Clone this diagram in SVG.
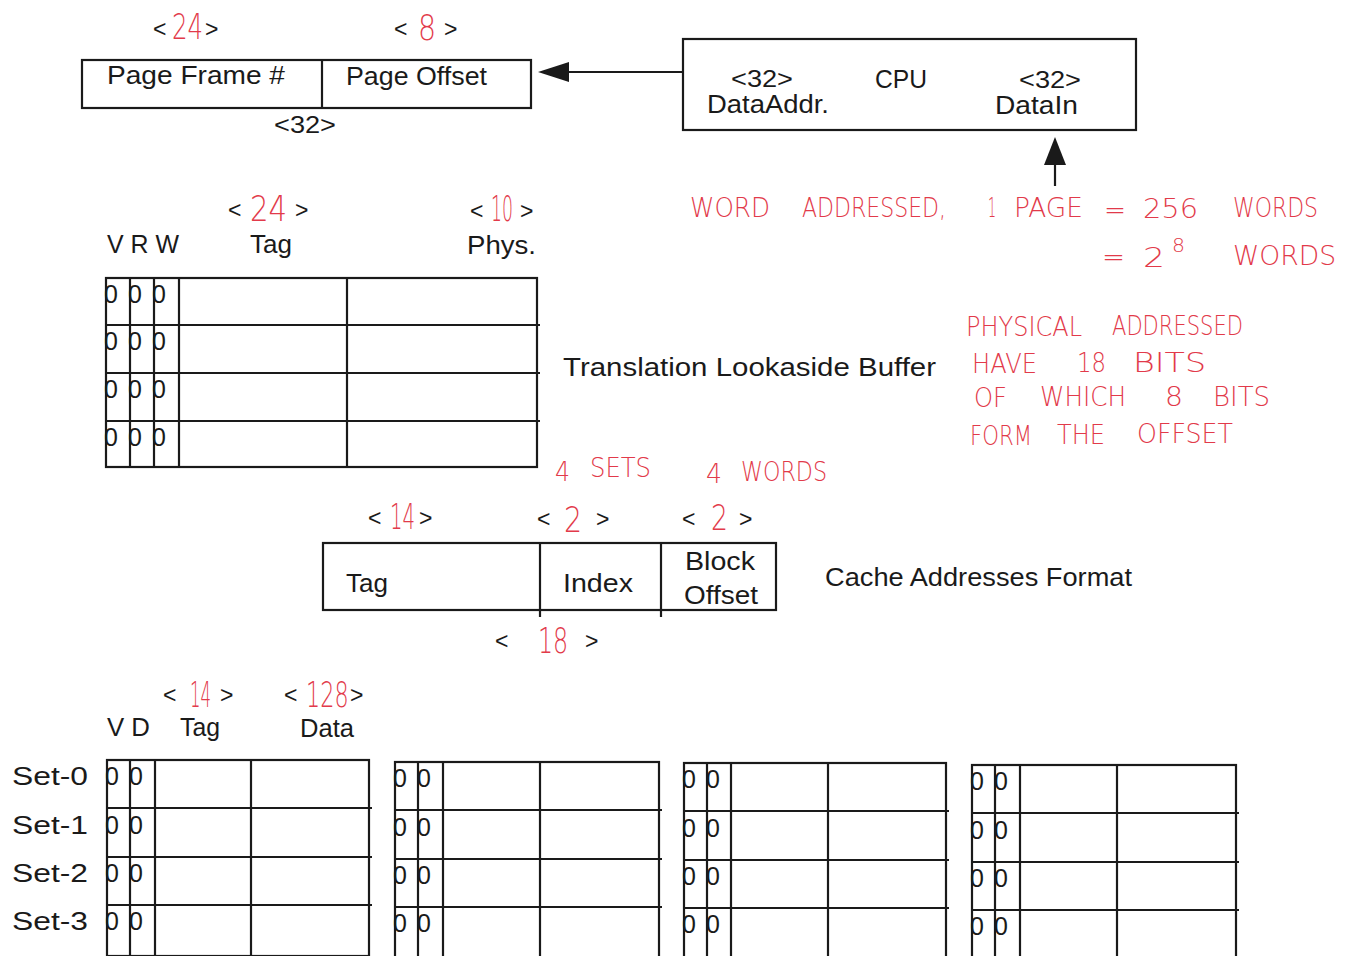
<svg xmlns="http://www.w3.org/2000/svg" width="1355" height="956" viewBox="0 0 1355 956">
<style>
.t{font-family:"Liberation Sans",Arial,sans-serif;fill:#1a1a1a;font-size:25px}
.s{font-family:"Liberation Sans",Arial,sans-serif;fill:#1a1a1a;font-size:23px}
.r{font-family:"DejaVu Sans",sans-serif;fill:#e23a4a;font-size:36px;font-weight:200}
.h{font-family:"DejaVu Sans",sans-serif;fill:#e23a4a;font-size:26px;font-weight:200}
.b{fill:none;stroke:#1a1a1a;stroke-width:2.2}
.l{stroke:#1a1a1a;stroke-width:2.2}
.z{font-family:"Liberation Sans",Arial,sans-serif;fill:#1a1a1a;font-size:25px}
</style>
<rect width="1355" height="956" fill="#fff"/>

<g id="connectors">
<line x1="683" y1="72" x2="568" y2="72" class="l"/>
<path d="M538,72 L569,62 L569,82 Z" fill="#1a1a1a"/>
<line x1="1055" y1="186" x2="1055" y2="164" class="l"/>
<path d="M1055,137 L1044,165 L1066,165 Z" fill="#1a1a1a"/>
</g>

<g id="page-address">
<rect x="82" y="60" width="449" height="48" class="b"/>
<line x1="322" y1="60" x2="322" y2="108" class="l"/>
<text x="107" y="84" class="t" textLength="178" lengthAdjust="spacingAndGlyphs">Page Frame #</text>
<text x="346" y="85" class="t" textLength="141" lengthAdjust="spacingAndGlyphs">Page Offset</text>
<text x="153" y="37" class="s">&lt;</text><g transform="translate(172,39) scale(0.68,1)"><text class="r">24</text></g><text x="205" y="37" class="s">&gt;</text>
<text x="394" y="37" class="s">&lt;</text><g transform="translate(418,40) scale(0.79,1)"><text class="r">8</text></g><text x="444" y="37" class="s">&gt;</text>
<text x="274" y="133" class="s" textLength="62" lengthAdjust="spacingAndGlyphs">&lt;32&gt;</text>
</g>

<g id="cpu">
<rect x="683" y="39" width="453" height="91" class="b"/>
<text x="731" y="87" class="s" font-size="22" textLength="62" lengthAdjust="spacingAndGlyphs">&lt;32&gt;</text>
<text x="707" y="113" class="t" textLength="122" lengthAdjust="spacingAndGlyphs">DataAddr.</text>
<text x="875" y="88" class="t" textLength="52" lengthAdjust="spacingAndGlyphs">CPU</text>
<text x="1019" y="88" class="s" font-size="22" textLength="62" lengthAdjust="spacingAndGlyphs">&lt;32&gt;</text>
<text x="995" y="114" class="t" textLength="83" lengthAdjust="spacingAndGlyphs">DataIn</text>
</g>

<g id="note-word" class="h">
<text x="690" y="217" textLength="80" lengthAdjust="spacingAndGlyphs">WORD</text>
<text x="802" y="217" textLength="144" lengthAdjust="spacingAndGlyphs">ADDRESSED,</text>
<text x="988" y="217" textLength="8" lengthAdjust="spacingAndGlyphs">1</text>
<text x="1014" y="217" textLength="69" lengthAdjust="spacingAndGlyphs">PAGE</text>
<text x="1104" y="219" textLength="22" lengthAdjust="spacingAndGlyphs">=</text>
<text x="1143" y="218" textLength="55" lengthAdjust="spacingAndGlyphs">256</text>
<text x="1233" y="217" textLength="85" lengthAdjust="spacingAndGlyphs">WORDS</text>
<text x="1102" y="266" textLength="23" lengthAdjust="spacingAndGlyphs">=</text>
<text x="1143" y="267" textLength="22" lengthAdjust="spacingAndGlyphs">2</text>
<text x="1172" y="252" font-size="20" textLength="13" lengthAdjust="spacingAndGlyphs">8</text>
<text x="1233" y="265" textLength="103" lengthAdjust="spacingAndGlyphs">WORDS</text>
</g>

<g id="tlb">
<text x="228" y="218" class="s">&lt;</text><g transform="translate(250,221) scale(0.81,1)"><text class="r">24</text></g><text x="295" y="218" class="s">&gt;</text>
<text x="470" y="219" class="s">&lt;</text><g transform="translate(491,221) scale(0.48,1)"><text class="r">10</text></g><text x="520" y="219" class="s">&gt;</text>
<text x="107" y="253" class="t" textLength="72" lengthAdjust="spacingAndGlyphs">V R W</text>
<text x="250" y="253" class="t" textLength="42" lengthAdjust="spacingAndGlyphs">Tag</text>
<text x="467" y="254" class="t" textLength="69" lengthAdjust="spacingAndGlyphs">Phys.</text>
<rect x="106" y="278" width="431" height="189" class="b"/>
<line x1="106" y1="325" x2="540" y2="325" class="l"/>
<line x1="106" y1="373" x2="540" y2="373" class="l"/>
<line x1="106" y1="421" x2="540" y2="421" class="l"/>
<line x1="130" y1="278" x2="130" y2="468" class="l"/>
<line x1="154" y1="278" x2="154" y2="468" class="l"/>
<line x1="179" y1="278" x2="179" y2="468" class="l"/>
<line x1="347" y1="278" x2="347" y2="468" class="l"/>
<g class="z">
<text x="104" y="303">0</text><text x="128" y="303">0</text><text x="152" y="303">0</text>
<text x="104" y="350">0</text><text x="128" y="350">0</text><text x="152" y="350">0</text>
<text x="104" y="398">0</text><text x="128" y="398">0</text><text x="152" y="398">0</text>
<text x="104" y="446">0</text><text x="128" y="446">0</text><text x="152" y="446">0</text>
</g>
<text x="563" y="376" class="t" textLength="373" lengthAdjust="spacingAndGlyphs">Translation  Lookaside  Buffer</text>
</g>

<g id="note-physical" class="h">
<text x="966" y="336" textLength="116" lengthAdjust="spacingAndGlyphs">PHYSICAL</text>
<text x="1112" y="335" textLength="131" lengthAdjust="spacingAndGlyphs">ADDRESSED</text>
<text x="972" y="373" textLength="65" lengthAdjust="spacingAndGlyphs">HAVE</text>
<text x="1077" y="372" textLength="29" lengthAdjust="spacingAndGlyphs">18</text>
<text x="1133" y="372" textLength="73" lengthAdjust="spacingAndGlyphs">BITS</text>
<text x="974" y="407" textLength="33" lengthAdjust="spacingAndGlyphs">OF</text>
<text x="1040" y="406" textLength="86" lengthAdjust="spacingAndGlyphs">WHICH</text>
<text x="1165" y="406" textLength="18" lengthAdjust="spacingAndGlyphs">8</text>
<text x="1213" y="406" textLength="57" lengthAdjust="spacingAndGlyphs">BITS</text>
<text x="970" y="445" textLength="62" lengthAdjust="spacingAndGlyphs">FORM</text>
<text x="1057" y="444" textLength="48" lengthAdjust="spacingAndGlyphs">THE</text>
<text x="1137" y="443" textLength="96" lengthAdjust="spacingAndGlyphs">OFFSET</text>
<text x="555" y="481" textLength="15" lengthAdjust="spacingAndGlyphs">4</text>
<text x="590" y="477" textLength="61" lengthAdjust="spacingAndGlyphs">SETS</text>
<text x="706" y="483" textLength="16" lengthAdjust="spacingAndGlyphs">4</text>
<text x="741" y="481" textLength="86" lengthAdjust="spacingAndGlyphs">WORDS</text>
</g>

<g id="cache-format">
<text x="368" y="526" class="s">&lt;</text><g transform="translate(390,529) scale(0.55,1)"><text class="r">14</text></g><text x="419" y="526" class="s">&gt;</text>
<text x="537" y="527" class="s">&lt;</text><g transform="translate(564,532) scale(0.79,1)"><text class="r">2</text></g><text x="596" y="527" class="s">&gt;</text>
<text x="682" y="527" class="s">&lt;</text><g transform="translate(711,530) scale(0.74,1)"><text class="r">2</text></g><text x="739" y="527" class="s">&gt;</text>
<rect x="323" y="543" width="453" height="67" class="b"/>
<line x1="540" y1="543" x2="540" y2="617" class="l"/>
<line x1="661" y1="543" x2="661" y2="617" class="l"/>
<text x="346" y="592" class="t" textLength="42" lengthAdjust="spacingAndGlyphs">Tag</text>
<text x="563" y="592" class="t" textLength="70" lengthAdjust="spacingAndGlyphs">Index</text>
<text x="685" y="570" class="t" textLength="70" lengthAdjust="spacingAndGlyphs">Block</text>
<text x="684" y="604" class="t" textLength="74" lengthAdjust="spacingAndGlyphs">Offset</text>
<text x="495" y="649" class="s">&lt;</text><g transform="translate(538,653) scale(0.66,1)"><text class="r">18</text></g><text x="585" y="649" class="s">&gt;</text>
<text x="825" y="586" class="t" textLength="307" lengthAdjust="spacingAndGlyphs">Cache Addresses Format</text>
</g>

<g id="cache-header">
<text x="163" y="703" class="s">&lt;</text><g transform="translate(190,707) scale(0.46,1)"><text class="r">14</text></g><text x="220" y="703" class="s">&gt;</text>
<text x="284" y="703" class="s">&lt;</text><g transform="translate(306,707) scale(0.62,1)"><text class="r" font-size="31">128</text></g><text x="350" y="703" class="s">&gt;</text>
<text x="107" y="736" class="t" textLength="43" lengthAdjust="spacingAndGlyphs">V D</text>
<text x="180" y="736" class="t" textLength="40" lengthAdjust="spacingAndGlyphs">Tag</text>
<text x="300" y="737" class="t" textLength="54" lengthAdjust="spacingAndGlyphs">Data</text>
<text x="12" y="785" class="t" textLength="76" lengthAdjust="spacingAndGlyphs">Set-0</text>
<text x="12" y="834" class="t" textLength="76" lengthAdjust="spacingAndGlyphs">Set-1</text>
<text x="12" y="882" class="t" textLength="76" lengthAdjust="spacingAndGlyphs">Set-2</text>
<text x="12" y="930" class="t" textLength="76" lengthAdjust="spacingAndGlyphs">Set-3</text>
</g>

<g id="cache-way-0">
<rect x="107" y="760" width="262" height="196" class="b"/>
<line x1="107" y1="808" x2="372" y2="808" class="l"/>
<line x1="107" y1="857" x2="372" y2="857" class="l"/>
<line x1="107" y1="905" x2="372" y2="905" class="l"/>
<line x1="130" y1="760" x2="130" y2="956" class="l"/>
<line x1="155" y1="760" x2="155" y2="956" class="l"/>
<line x1="251" y1="760" x2="251" y2="956" class="l"/>
<g class="z"><text x="105" y="785">0</text><text x="129" y="785">0</text><text x="105" y="834">0</text><text x="129" y="834">0</text><text x="105" y="882">0</text><text x="129" y="882">0</text><text x="105" y="930">0</text><text x="129" y="930">0</text></g>
</g>

<g id="cache-way-1">
<rect x="395" y="762" width="264" height="196" class="b"/>
<line x1="395" y1="810" x2="662" y2="810" class="l"/>
<line x1="395" y1="859" x2="662" y2="859" class="l"/>
<line x1="395" y1="907" x2="662" y2="907" class="l"/>
<line x1="418" y1="762" x2="418" y2="956" class="l"/>
<line x1="443" y1="762" x2="443" y2="956" class="l"/>
<line x1="540" y1="762" x2="540" y2="956" class="l"/>
<g class="z"><text x="393" y="787">0</text><text x="417" y="787">0</text><text x="393" y="836">0</text><text x="417" y="836">0</text><text x="393" y="884">0</text><text x="417" y="884">0</text><text x="393" y="932">0</text><text x="417" y="932">0</text></g>
</g>

<g id="cache-way-2">
<rect x="684" y="763" width="262" height="196" class="b"/>
<line x1="684" y1="811" x2="949" y2="811" class="l"/>
<line x1="684" y1="860" x2="949" y2="860" class="l"/>
<line x1="684" y1="908" x2="949" y2="908" class="l"/>
<line x1="707" y1="763" x2="707" y2="956" class="l"/>
<line x1="731" y1="763" x2="731" y2="956" class="l"/>
<line x1="828" y1="763" x2="828" y2="956" class="l"/>
<g class="z"><text x="682" y="788">0</text><text x="706" y="788">0</text><text x="682" y="837">0</text><text x="706" y="837">0</text><text x="682" y="885">0</text><text x="706" y="885">0</text><text x="682" y="933">0</text><text x="706" y="933">0</text></g>
</g>

<g id="cache-way-3">
<rect x="972" y="765" width="264" height="196" class="b"/>
<line x1="972" y1="813" x2="1239" y2="813" class="l"/>
<line x1="972" y1="862" x2="1239" y2="862" class="l"/>
<line x1="972" y1="910" x2="1239" y2="910" class="l"/>
<line x1="995" y1="765" x2="995" y2="956" class="l"/>
<line x1="1020" y1="765" x2="1020" y2="956" class="l"/>
<line x1="1117" y1="765" x2="1117" y2="956" class="l"/>
<g class="z"><text x="970" y="790">0</text><text x="994" y="790">0</text><text x="970" y="839">0</text><text x="994" y="839">0</text><text x="970" y="887">0</text><text x="994" y="887">0</text><text x="970" y="935">0</text><text x="994" y="935">0</text></g>
</g>
</svg>
